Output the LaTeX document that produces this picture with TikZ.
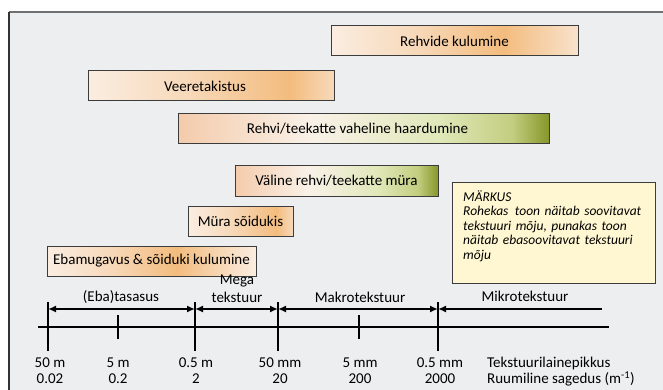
\documentclass[tikz,border=0pt]{standalone}
\usepackage{fontspec}
\setmainfont{Carlito}
\usepackage{xcolor}
\usepackage{tikz}
\usetikzlibrary{arrows.meta, positioning}

\definecolor{bggray}{HTML}{EDEEF0}
\definecolor{framegray}{HTML}{707070}
\definecolor{boxline}{HTML}{3C3C3C}
\definecolor{peachlight}{HTML}{FAEDE1}
\definecolor{peachmid}{HTML}{F7D9BA}
\definecolor{peachfade}{HTML}{F8E2CC}
\definecolor{orangemid}{HTML}{F3BC7E}
\definecolor{peachleft}{HTML}{F4CBAB}
\definecolor{creamwhite}{HTML}{F9F1E8}
\definecolor{greenlight}{HTML}{E1E8BA}
\definecolor{greenmid}{HTML}{C3CE80}
\definecolor{olivedark}{HTML}{87972A}
\definecolor{notefill}{HTML}{FFF7D1}

% varvide uleminekud kastides
\pgfdeclarehorizontalshading{kulumineshade}{100bp}{color(0bp)=(peachlight); color(25bp)=(peachlight); color(42bp)=(peachmid); color(60bp)=(orangemid); color(75bp)=(peachfade); color(100bp)=(peachfade)}
\pgfdeclarehorizontalshading{veereshade}{100bp}{color(0bp)=(peachlight); color(25bp)=(peachlight); color(45bp)=(peachmid); color(66bp)=(orangemid); color(75bp)=(peachmid); color(100bp)=(peachmid)}
\pgfdeclarehorizontalshading{greenshade}{100bp}{color(0bp)=(peachleft); color(25bp)=(peachleft); color(43bp)=(creamwhite); color(60bp)=(greenlight); color(70bp)=(greenmid); color(75bp)=(olivedark); color(100bp)=(olivedark)}
\pgfdeclarehorizontalshading{murashade}{100bp}{color(0bp)=(peachlight); color(25bp)=(peachlight); color(45bp)=(peachmid); color(67bp)=(orangemid); color(75bp)=(peachmid); color(100bp)=(peachmid)}
\pgfdeclarehorizontalshading{ebashade}{100bp}{color(0bp)=(peachlight); color(25bp)=(peachlight); color(40bp)=(peachmid); color(56bp)=(orangemid); color(75bp)=(peachlight); color(100bp)=(peachlight)}

\begin{document}
\begin{tikzpicture}[x=1pt, y=-1pt,
    tbox/.style={draw=boxline, line width=1pt, minimum height=30pt, inner sep=0pt,
        font=\fontsize{15}{18}\selectfont},
    lbl/.style={inner sep=0pt, font=\fontsize{15}{18}\selectfont},
    rangearrow/.style={line width=1.8pt, >={Latex[length=8pt,width=7pt]}}]
    \useasboundingbox (0,0) rectangle (663,390);
    \clip (0,0) rectangle (663,390);

    % 1. Taust ja raam
    \fill[bggray] (9,12) rectangle (680,400);
    \draw[framegray, line width=1.3pt] (680,12) -- (9,12);
    \draw[black!80, line width=1.5pt] (9,12) -- (9,400);

    % 2. Moju kastid
    \node[tbox, shading=kulumineshade, minimum width=247pt] (kulumine) at (454.5,41) {Rehvide kulumine};
    \node[tbox, shading=veereshade, minimum width=246pt] (veere) at (211,86) {\hspace*{-12pt}Veeretakistus};
    \node[tbox, shading=greenshade, minimum width=371pt] (haardumine) at (363.5,129) {\hspace*{-12pt}Rehvi/teekatte vaheline haardumine};
    \node[tbox, shading=greenshade, minimum width=203pt] (valine) at (336.5,181) {Väline rehvi/teekatte müra};
    \node[tbox, shading=murashade, minimum width=105pt] (murasoid) at (240.5,221) {Müra sõidukis};
    \node[tbox, shading=ebashade, minimum width=209pt] (ebamugavus) at (151.5,261) {Ebamugavus \& sõiduki kulumine};

    % 3. Markuse kast
    \node[draw=boxline, line width=1pt, fill=notefill, minimum width=203pt, minimum height=101pt,
        inner sep=0pt, anchor=north west] (markus) at (452,182) {};
    \node[anchor=north west, inner sep=0pt, text width=190pt, align=left,
        font=\fontsize{13.5}{14.4}\selectfont\itshape] (markustext) at (463,190.5)
        {MÄRKUS\\ Rohekas\hspace{2pt} toon näitab soovitavat\\ tekstuuri mõju, punakas toon\\ näitab ebasoovitavat tekstuuri\\ mõju};

    % 4. Skaala
    \coordinate (axl) at (38,327);
    \coordinate (axr) at (609,327);
    \draw[line width=2.4pt] (axl) -- (axr);
    \foreach \nm/\xx/\lo/\hi in {ta/48/302/351, tb/118/315/339, tc/195/302/351,
        td/278/302/351, te/359/315/339, tf/438/302/351} {
        \coordinate (\nm-top) at (\xx,\lo);
        \coordinate (\nm-bot) at (\xx,\hi);
        \coordinate (\nm-arr) at (\xx,309);
        \draw[line width=2pt] (\nm-top) -- (\nm-bot);
    }
    \coordinate (mikroend) at (602,309);

    % vahemike nooled
    \draw[rangearrow, <->] (ta-arr) -- (tc-arr);
    \draw[rangearrow, <->] (tc-arr) -- (td-arr);
    \draw[rangearrow, <->] (td-arr) -- (tf-arr);
    \draw[rangearrow, <-] (tf-arr) -- (mikroend);

    \node[lbl] (ebatasasus) at (121,297.5) {(Eba)tasasus};
    \node[lbl] (mega) at (237,281) {Mega};
    \node[lbl] (megatekst) at (237,297.5) {tekstuur};
    \node[lbl] (makro) at (360,297.5) {Makrotekstuur};
    \node[lbl] (mikro) at (525,296) {Mikrotekstuur};

    % 5. Lainepikkused ja sagedused
    \foreach \nm/\xx/\lw/\sg in {a/50/50 m/0.02, b/118/5 m/0.2, c/196/0.5 m/2,
        d/280/50 mm/20, e/360/5 mm/200, f/440/0.5 mm/2000} {
        \node[lbl] (lw-\nm) at (\xx,363) {\lw};
        \node[lbl] (sg-\nm) at (\xx,379) {\sg};
    }
    \node[lbl, anchor=west] (lainepikkus) at (487,363) {Tekstuurilainepikkus};
    \node[lbl, anchor=west] (sagedus) at (487,379) {Ruumiline sagedus (m\textsuperscript{-1})};
\end{tikzpicture}
\end{document}
